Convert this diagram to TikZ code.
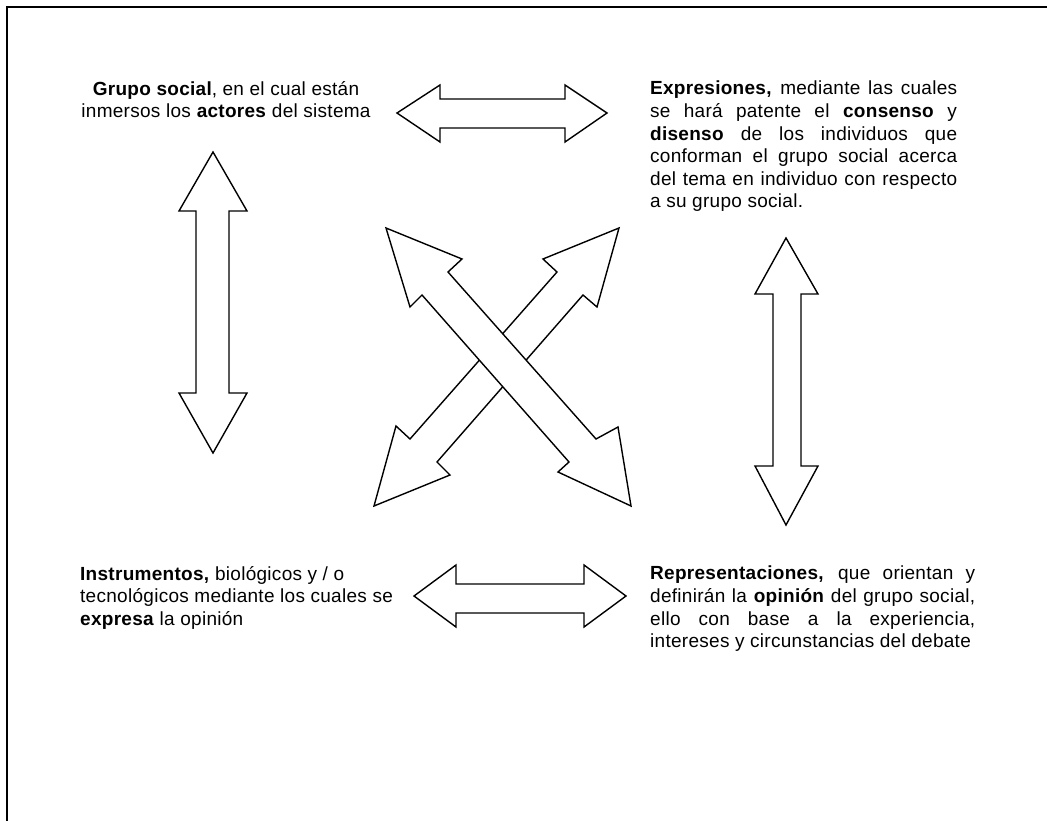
\documentclass[tikz,border=0pt]{standalone}
\usepackage{fontspec}
\setmainfont[LetterSpace=1.5]{Liberation Sans}
\begin{document}
\begin{tikzpicture}[x=1pt,y=-1pt,
  txt/.style={inner sep=0pt, font=\fontsize{19}{22.6}\selectfont},
  arrowshape/.style={draw=black, fill=white, line width=1.4pt, line join=miter},
  frame/.style={draw=black, line width=2.4pt}]
\useasboundingbox (0,0) rectangle (1047,821);
% frame (left and top edges)
\coordinate (fb) at (7,821);
\coordinate (fc) at (7,7);
\coordinate (fr) at (1047,7);
\draw[frame] (fb) -- (fc) -- (fr);

% texts
\node[txt, align=center, anchor=north] (grupo) at (226,81)
  {\textbf{Grupo social}, en el cual están\\inmersos los \textbf{actores} del sistema};
\node[txt, text width=307pt, align=justify, anchor=north west] (expr) at (650,81)
  {\textbf{Expresiones,} mediante las cuales\linebreak se hará patente el \textbf{consenso} y\linebreak \textbf{disenso} de los individuos que\linebreak conforman el grupo social acerca\linebreak del tema en individuo con respecto\linebreak a su grupo social.};
\node[txt, align=left, anchor=north west] (instr) at (80,566)
  {\textbf{Instrumentos,} biológicos y / o\\tecnológicos mediante los cuales se\\\textbf{expresa} la opinión};
\node[txt, text width=325pt, align=justify, anchor=north west] (repr) at (650,566)
  {\textbf{Representaciones,} que orientan y\linebreak definirán la \textbf{opinión} del grupo social,\linebreak ello con base a la experiencia,\linebreak intereses y circunstancias del debate};

% top horizontal double arrow
\draw[arrowshape] (397,113) -- (440,85) -- (440,99) -- (565,99) -- (565,85) -- (607,113)
  -- (565,142) -- (565,128) -- (440,128) -- (440,142) -- cycle;
% bottom horizontal double arrow
\draw[arrowshape] (414,596) -- (456,565) -- (456,584) -- (584,584) -- (584,565) -- (626,596)
  -- (584,627) -- (584,613) -- (456,613) -- (456,627) -- cycle;
% left vertical double arrow
\draw[arrowshape] (213,152) -- (247,211) -- (229,211) -- (229,393) -- (247,393) -- (213,453)
  -- (179,393) -- (196,393) -- (196,211) -- (179,211) -- cycle;
% right vertical double arrow
\draw[arrowshape] (786,238) -- (818,294) -- (801,294) -- (801,466) -- (818,466) -- (786,525)
  -- (755,466) -- (773,466) -- (773,294) -- (755,294) -- cycle;
% diagonal arrow NE-SW (underneath)
\draw[arrowshape] (619,228) -- (597,307) -- (583,295) -- (437,462) -- (450,475) -- (374,506)
  -- (396,426) -- (410,439) -- (557,272) -- (543,259) -- cycle;
% diagonal arrow NW-SE (on top)
\draw[arrowshape] (386,228) -- (462,259) -- (448,272) -- (596,439) -- (618,427) -- (631,506)
  -- (558,472) -- (569,462) -- (422,295) -- (410,307) -- cycle;
\end{tikzpicture}
\end{document}
